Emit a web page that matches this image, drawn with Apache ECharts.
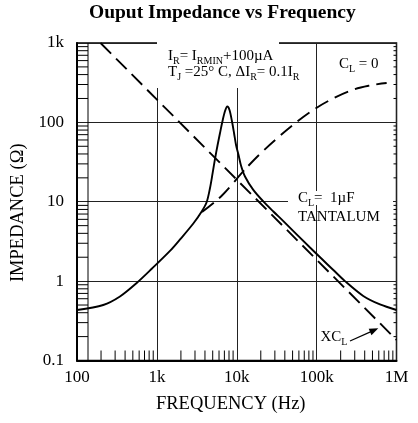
<!DOCTYPE html>
<html><head><meta charset="utf-8">
<script src="https://cdn.jsdelivr.net/npm/echarts@6/dist/echarts.min.js"></script>
<style>html,body{margin:0;padding:0;background:#fff}#c{width:418px;height:423px}</style>
</head><body><div id="c"></div>
<script>
const FONT = '"Liberation Serif","Times New Roman",serif';
const xTickLabels = ['100', '1k', '10k', '100k', '1M'];
const yTickLabels = ['0.1', '1', '10', '100', '1k'];

// C_L = 1uF tantalum (solid)
const freqTantalum = [100, 213, 345, 559, 869, 1459, 1950, 2858, 3640, 4206, 4627, 4970, 5342, 5742, 6172, 6634, 7131, 7618, 8115, 8724, 9245, 9796, 10530, 11300, 12680, 16110, 21480, 28710, 38310, 82600, 161900, 226300, 383400, 621000, 1000000];
const zTantalum    = [0.433, 0.50, 0.64, 0.947, 1.44, 2.40, 3.35, 5.32, 7.54, 9.93, 14.9, 22.4, 34.6, 51.2, 73.5, 104, 139, 158.5, 143, 102.6, 73.5, 51.9, 38.8, 28.6, 20.8, 14.1, 10.1, 7.54, 5.71, 2.65, 1.38, 1.0, 0.65, 0.508, 0.433];
// C_L = 0 (dashed)
const freqNoCap = [3673, 5190, 6530, 8710, 11290, 15520, 21320, 32850, 50560, 86700, 151400, 281300, 465700, 753000];
const zNoCap    = [7.43, 9.79, 12.0, 16.5, 22.4, 31.7, 43.5, 64.4, 92.7, 139, 194, 256, 292, 313];
// XC_L (dashed)
const freqXCL = [197, 1000000];
const zXCL    = [1000, 0.182];

const zip = (a, b) => a.map((v, i) => [v, b[i]]);
const xMinor = [], yMinor = [];
for (let k = 2; k <= 5; k++) for (let m = 2; m <= 9; m++) xMinor.push([m * Math.pow(10, k), 0.1]);
for (let k = -1; k <= 2; k++) for (let m = 2; m <= 9; m++) yMinor.push([100, m * Math.pow(10, k)]);
const yMinorRight = yMinor.map(d => [1e6, d[1]]);

function tickSeries(data, dx, dy) {
  return {
    type: 'custom', silent: true, clip: false, z: 3, animation: false,
    data: data,
    renderItem: function (params, api) {
      const p = api.coord([api.value(0), api.value(1)]);
      return { type: 'line', shape: { x1: p[0], y1: p[1], x2: p[0] + dx, y2: p[1] + dy }, style: { stroke: '#000', lineWidth: 1 } };
    }
  };
}

const chart = echarts.init(document.getElementById('c'), null, { renderer: 'canvas' });
const mainSty = { fontFamily: FONT, fontSize: 15, lineHeight: 21, fill: '#000', color: '#000' };
const subSty = { fontFamily: FONT, fontSize: 10, lineHeight: 10, verticalAlign: 'bottom', fill: '#000', color: '#000' };
function label(x, y, text) {
  return { type: 'text', x: x, y: y, z: 5, style: { text: text, verticalAlign: 'middle', align: 'left', fontFamily: FONT, fontSize: 15, fill: '#000', rich: { m: mainSty, s: subSty } } };
}

chart.setOption({
  animation: false,
  backgroundColor: '#fff',
  title: {
    text: 'Ouput Impedance vs Frequency', left: 89, top: 3, padding: 0,
    textStyle: { fontFamily: FONT, fontSize: 19.5, fontWeight: 'bold', color: '#000' }
  },
  grid: { left: 77, top: 43, width: 319.5, height: 317.5, show: true, borderColor: '#000', borderWidth: 1.5, backgroundColor: 'transparent' },
  xAxis: {
    type: 'log', logBase: 10, min: 100, max: 1000000,
    name: 'FREQUENCY (Hz)', nameLocation: 'middle', nameGap: 34,
    nameTextStyle: { fontFamily: FONT, fontSize: 18.5, color: '#000', padding: [0, 12, 0, 0] },
    axisLine: { show: true, lineStyle: { color: '#000', width: 2 } },
    axisTick: { show: false },
    axisLabel: { fontFamily: FONT, fontSize: 17, color: '#000', margin: 9, showMinLabel: true, showMaxLabel: true,
      formatter: v => xTickLabels[Math.round(Math.log10(v)) - 2] },
    splitLine: { show: true, lineStyle: { color: '#222', width: 1 } }
  },
  yAxis: {
    type: 'log', logBase: 10, min: 0.1, max: 1000,
    name: 'IMPEDANCE (Ω)', nameLocation: 'middle', nameGap: 47, nameRotate: 90,
    nameTextStyle: { fontFamily: FONT, fontSize: 18.5, color: '#000', padding: [0, 22, 0, 0] },
    axisLine: { show: true, lineStyle: { color: '#000', width: 2 } },
    axisTick: { show: false },
    axisLabel: { fontFamily: FONT, fontSize: 17, color: '#000', margin: 13, showMinLabel: true, showMaxLabel: true,
      formatter: v => yTickLabels[Math.round(Math.log10(v)) + 1] },
    splitLine: { show: true, lineStyle: { color: '#222', width: 1 } }
  },
  series: [
    { type: 'line', name: 'CL=1uF', data: zip(freqTantalum, zTantalum), showSymbol: false, symbol: 'none',
      smooth: 0.3, lineStyle: { color: '#000', width: 1.9 }, z: 4 },
    { type: 'line', name: 'CL=0', data: zip(freqNoCap, zNoCap), showSymbol: false, symbol: 'none',
      smooth: 0.4, lineStyle: { color: '#000', width: 1.9, type: [15, 7] }, z: 4 },
    { type: 'line', name: 'XCL', data: zip(freqXCL, zXCL), showSymbol: false, symbol: 'none',
      lineStyle: { color: '#000', width: 1.9, type: [15, 7] }, z: 4 },
    tickSeries(xMinor, 0, -10),
    tickSeries(yMinor, 11, 0),
    tickSeries(yMinorRight, -3, 0),
    {
      type: 'custom', silent: true, clip: false, z: 3, animation: false, data: [[100, 0.1]],
      renderItem: function (params, api) {
        const a = api.coord([100, 0.1]), b = api.coord([100, 1000]);
        return { type: 'line', shape: { x1: a[0] + 11, y1: a[1], x2: b[0] + 11, y2: b[1] }, style: { stroke: '#000', lineWidth: 1 } };
      }
    }
  ],
  graphic: [
    { type: 'rect', z: 1, shape: { x: 157, y: 36, width: 122, height: 52 }, style: { fill: '#fff' } },
    { type: 'rect', z: 1, shape: { x: 288, y: 191, width: 105, height: 14 }, style: { fill: '#fff' } },
    label(168, 55.6, '{m|I}{s|R}{m|= I}{s|RMIN}{m|+100µA}'),
    label(168, 72.2, '{m|T}{s|J}{m| =25° C, ΔI}{s|R}{m|= 0.1I}{s|R}'),
    label(339, 64, '{m|C}{s|L}{m| = 0}'),
    label(298, 197.6, '{m|C}{s|L}{m|=  1µF}'),
    label(298, 216.6, '{m|TANTALUM}'),
    label(320.5, 336.6, '{m|XC}{s|L}'),
    { type: 'line', z: 5, shape: { x1: 350, y1: 341, x2: 371, y2: 331.6 }, style: { stroke: '#000', lineWidth: 1.2 } },
    { type: 'polygon', z: 5, shape: { points: [[378.3, 328.3], [371.5, 335.2], [368.7, 328.8]] }, style: { fill: '#000' } }
  ]
});
</script>
</body></html>
